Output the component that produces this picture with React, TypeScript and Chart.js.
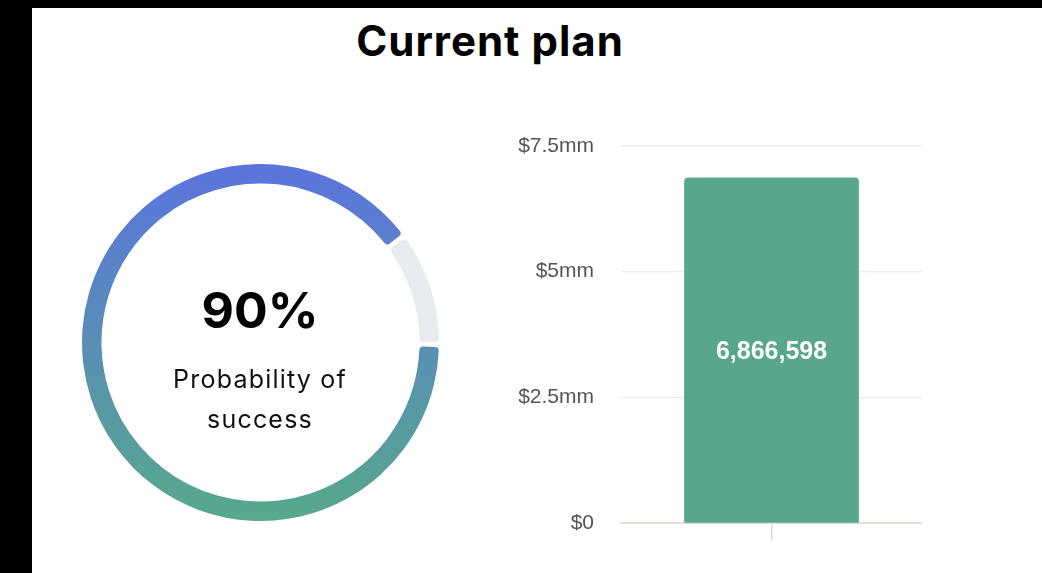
import React, { useEffect, useRef } from "react";
import { Chart, registerables } from "chart.js";

Chart.register(...registerables);

// ---- data ----
const titleText = "Current plan";
const successPct = 90;
const donutValues = [successPct, 100 - successPct];
const donutCaption = ["Probability of", "success"];

const barCategories = ["Current plan"];
const barValues = [6866598];
const yTickValues = [0, 2500000, 5000000, 7500000];
const yTickLabels = ["$0", "$2.5mm", "$5mm", "$7.5mm"];

const GRAD_TOP = "#5a74df";
const GRAD_BOTTOM = "#57a98b";
const TRACK = "#e8ebf0";
const BAR_COLOR = "#58a68c";

function Donut() {
  const ref = useRef<HTMLCanvasElement | null>(null);
  useEffect(() => {
    if (!ref.current) return;
    const chart = new Chart(ref.current, {
      type: "doughnut",
      data: {
        labels: ["success", "rest"],
        datasets: [
          {
            data: donutValues,
            backgroundColor: (c: any) => {
              if (c.dataIndex === 1) return TRACK;
              const { chart } = c;
              const area = chart.chartArea;
              if (!area) return GRAD_TOP;
              const g = chart.ctx.createLinearGradient(0, area.top, 0, area.bottom);
              g.addColorStop(0, GRAD_TOP);
              g.addColorStop(1, GRAD_BOTTOM);
              return g;
            },
            borderWidth: 0,
            borderRadius: 4,
            spacing: 3,
          },
        ],
      },
      options: {
        responsive: false,
        animation: false,
        events: [],
        rotation: 90,
        cutout: "89%",
        layout: { padding: 0 },
        plugins: { legend: { display: false }, tooltip: { enabled: false } },
      },
    });
    return () => chart.destroy();
  }, []);
  return <canvas ref={ref} width={357} height={357} style={{ display: "block" }} />;
}

const barLabelPlugin = {
  id: "barLabel",
  afterDatasetsDraw(chart: any) {
    const ctx = chart.ctx;
    const meta = chart.getDatasetMeta(0);
    ctx.save();
    ctx.fillStyle = "#ffffff";
    ctx.font = "bold 25px 'Liberation Sans', Arial, sans-serif";
    ctx.textAlign = "center";
    ctx.textBaseline = "middle";
    meta.data.forEach((bar: any, i: number) => {
      const p = bar.getProps(["x", "y", "base"], true);
      const v = chart.data.datasets[0].data[i] as number;
      ctx.fillText(v.toLocaleString("en-US"), p.x, (p.y + p.base) / 2 + 2);
    });
    ctx.restore();
  },
};

function Bars() {
  const ref = useRef<HTMLCanvasElement | null>(null);
  useEffect(() => {
    if (!ref.current) return;
    const chart = new Chart(ref.current, {
      type: "bar",
      data: {
        labels: barCategories,
        datasets: [
          {
            data: barValues,
            backgroundColor: BAR_COLOR,
            borderRadius: 4,
            borderSkipped: "start",
            barThickness: 174,
          },
        ],
      },
      options: {
        responsive: false,
        animation: false,
        events: [],
        layout: { padding: { top: 20, right: 18, left: 0, bottom: 0 } },
        plugins: { legend: { display: false }, tooltip: { enabled: false } },
        scales: {
          x: {
            grid: {
              display: true,
              offset: false,
              drawOnChartArea: false,
              drawTicks: true,
              tickLength: 17,
              color: "#d8d8d8",
              lineWidth: 1.5,
            },
            border: { display: true, color: "#e3ddd8", width: 2 },
            ticks: { display: false },
            afterFit: (s: any) => {
              s.height = 37;
            },
          },
          y: {
            min: 0,
            max: 7500000,
            afterBuildTicks: (s: any) => {
              s.ticks = yTickValues.map((v) => ({ value: v }));
            },
            grid: {
              color: "#ececec",
              lineWidth: 1.3,
              drawTicks: true,
              tickLength: 24,
              tickColor: "rgba(0,0,0,0)",
            },
            border: { display: false },
            ticks: {
              padding: 3,
              color: "#555555",
              font: { family: "'Liberation Sans', Arial, sans-serif", size: 21 },
              callback: (_v: any, i: number) => yTickLabels[i],
            },
            afterFit: (s: any) => {
              s.width = 121;
            },
          },
        },
      },
      plugins: [barLabelPlugin],
    });
    return () => chart.destroy();
  }, []);
  return <canvas ref={ref} width={440} height={434} style={{ display: "block" }} />;
}

export default function App() {
  const abs = (l: number, t: number, extra: React.CSSProperties = {}): React.CSSProperties => ({
    position: "absolute",
    left: l,
    top: t,
    ...extra,
  });
  return (
    <div style={{ position: "fixed", left: 0, top: 0, width: 1042, height: 573, background: "#000", overflow: "hidden" }}>
      <div style={{ position: "absolute", left: 32, top: 8, right: 0, bottom: 0, background: "#fff" }} />
      <div
        style={abs(290, 20, {
          width: 400,
          textAlign: "center",
          fontFamily: "Inter, 'Noto Sans', sans-serif",
          fontWeight: 700,
          fontSize: 42,
          letterSpacing: 1,
          lineHeight: "42px",
          color: "#000",
        })}
      >
        {titleText}
      </div>
      <div style={abs(82, 164, { width: 357, height: 357 })}>
        <Donut />
      </div>
      <div
        style={abs(110, 285, {
          width: 300,
          textAlign: "center",
          fontFamily: "Inter, 'Noto Sans', sans-serif",
          fontWeight: 700,
          fontSize: 50,
          lineHeight: "50px",
          color: "#000",
        })}
      >
        {successPct}%
      </div>
      <div
        style={abs(110, 359, {
          width: 300,
          textAlign: "center",
          fontFamily: "Inter, 'Noto Sans', sans-serif",
          fontWeight: 400,
          fontSize: 25,
          letterSpacing: 1.2,
          lineHeight: "40px",
          color: "#111",
        })}
      >
        {donutCaption[0]}
        <br />
        {donutCaption[1]}
      </div>
      <div style={abs(500, 126)}>
        <Bars />
      </div>
    </div>
  );
}
